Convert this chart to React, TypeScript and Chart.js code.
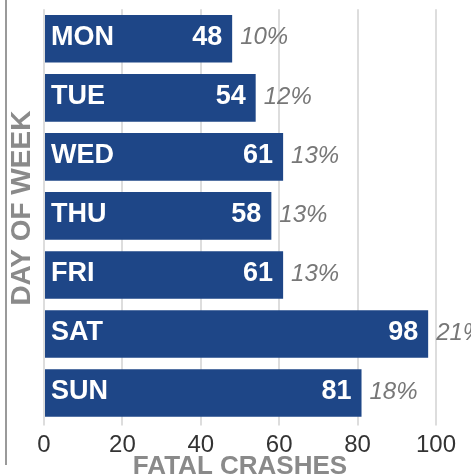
import React, { useEffect, useRef } from "react";
import { Chart, registerables } from "chart.js";

Chart.register(...registerables);

const days = ["MON", "TUE", "WED", "THU", "FRI", "SAT", "SUN"];
const crashes = [48, 54, 61, 58, 61, 98, 81];
const shares = ["10%", "12%", "13%", "13%", "13%", "21%", "18%"];
const xTicks = [0, 20, 40, 60, 80, 100];

const BAR_COLOR = "#1e4687";
const NARROW = "'Liberation Sans Narrow', 'Arial Narrow', 'Liberation Sans', Arial, sans-serif";
const SANS = "'Liberation Sans', Arial, Helvetica, sans-serif";

const barLabels = {
  id: "barLabels",
  afterDatasetsDraw(chart: any) {
    const ctx = chart.ctx;
    const meta = chart.getDatasetMeta(0);
    ctx.save();
    ctx.textBaseline = "middle";
    meta.data.forEach((bar: any, i: number) => {
      const y = bar.y - 1;
      ctx.font = `bold 27px ${SANS}`;
      ctx.fillStyle = "#ffffff";
      ctx.textAlign = "left";
      ctx.fillText(days[i], bar.base + 6, y);
      ctx.textAlign = "right";
      ctx.fillText(String(crashes[i]), bar.x - 10, y);
      ctx.font = `italic 24px ${NARROW}`;
      ctx.fillStyle = "#777777";
      ctx.textAlign = "left";
      ctx.fillText(shares[i], bar.x + 8, y);
    });
    ctx.restore();
  },
};

export default function App() {
  const ref = useRef<HTMLCanvasElement | null>(null);
  useEffect(() => {
    if (!ref.current) return;
    const chart = new Chart(ref.current, {
      type: "bar",
      data: {
        labels: days,
        datasets: [
          {
            data: crashes,
            backgroundColor: BAR_COLOR,
            borderWidth: 0,
            barPercentage: 0.806,
            categoryPercentage: 1,
          },
        ],
      },
      options: {
        indexAxis: "y",
        responsive: false,
        animation: false,
        layout: { padding: { left: 0, right: 35, top: 9.3, bottom: 0 } },
        plugins: { legend: { display: false }, tooltip: { enabled: false } },
        scales: {
          x: {
            min: 0,
            max: 100,
            afterBuildTicks: (s: any) => {
              s.ticks = xTicks.map((v) => ({ value: v }));
            },
            afterFit: (s: any) => {
              s.height = 67.5;
            },
            grid: { color: "#dddddd", lineWidth: 2, tickLength: 3, drawTicks: true },
            border: { display: false },
            ticks: {
              color: "#333333",
              padding: 5,
              font: { family: NARROW, size: 24 },
            },
            title: {
              display: true,
              text: "FATAL CRASHES",
              color: "#8a8a8a",
              font: { family: SANS, size: 26, weight: "bold" },
              padding: { top: 0, bottom: 8 },
            },
          },
          y: {
            afterFit: (s: any) => {
              s.width = 44;
            },
            grid: { display: false },
            border: { display: false },
            ticks: { display: false },
            title: {
              display: true,
              text: "\u00a0\u00a0DAY OF WEEK",
              color: "#8a8a8a",
              font: { family: SANS, size: 28, weight: "bold" },
              padding: { top: 5, bottom: 5 },
            },
          },
        },
      },
      plugins: [barLabels],
    });
    return () => chart.destroy();
  }, []);
  return (
    <div
      style={{
        position: "absolute",
        left: 0,
        top: 0,
        width: 471,
        height: 475,
        overflow: "hidden",
        background: "#ffffff",
      }}
    >
      <canvas ref={ref} width={471} height={490} style={{ display: "block" }} />
      <div
        style={{
          position: "absolute",
          left: 5,
          top: 0,
          width: 1.5,
          height: 465,
          background: "#9a9a9a",
        }}
      />
    </div>
  );
}
